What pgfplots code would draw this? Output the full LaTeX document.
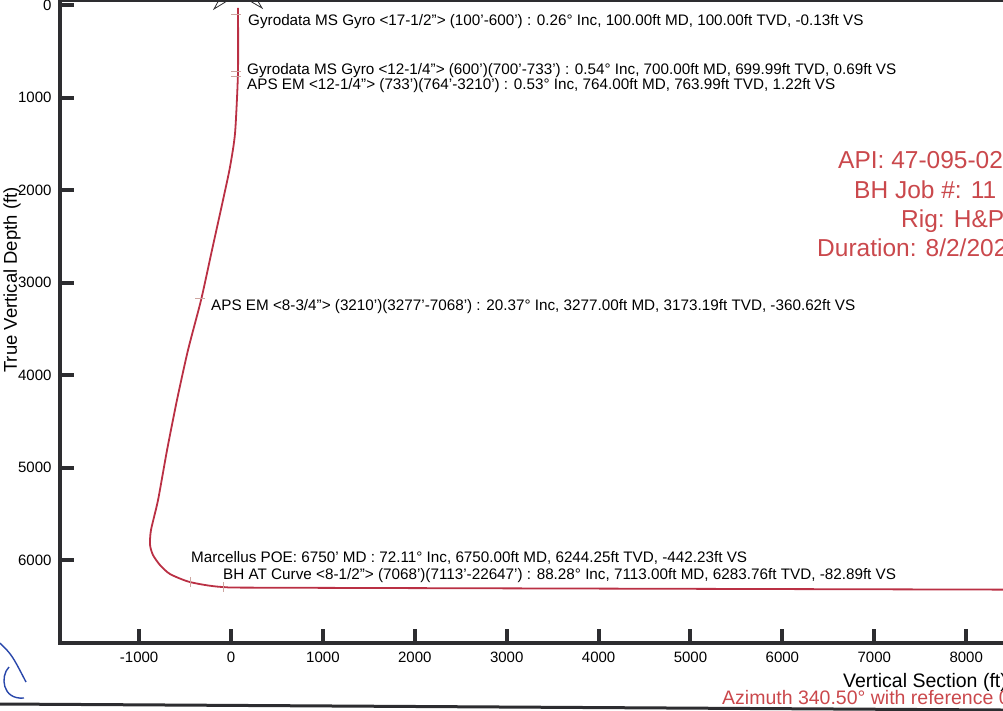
\documentclass[border=0pt]{standalone}
\usepackage{fontspec}
\setmainfont{Liberation Sans}
\usepackage{pgfplots}
\pgfplotsset{compat=1.18}
\definecolor{wellred}{RGB}{186,48,68}
\definecolor{txtred}{RGB}{202,72,76}
\definecolor{axisgray}{RGB}{45,45,48}
\definecolor{survey}{RGB}{205,165,160}
\definecolor{pen}{RGB}{40,70,170}

\begin{document}
\begin{tikzpicture}
\useasboundingbox (0pt,0pt) rectangle (1003pt,-710pt);
\begin{axis}[
  scale only axis, width=950pt, height=643pt,
  at={(60pt,-643pt)}, anchor=south west,
  xmin=-1861, xmax=8477, ymin=-54, ymax=6897,
  y dir=reverse,
  axis line style={line width=4pt, axisgray},
  xtick={-1000,0,...,8000}, ytick={0,1000,...,6000},
  xtick pos=bottom, ytick pos=left,
  tick align=inside,
  major tick length=14pt,
  tick style={line width=4pt, axisgray},
  ticklabel style={font=\fontsize{15}{17}\selectfont},
  xticklabel style={yshift=-5pt},
  yticklabel style={xshift=-5pt},
  /pgf/number format/assume math mode=true,
  /pgf/number format/1000 sep={},
  clip=false,
]
% well path (vertical section, TVD)
\addplot[wellred, line width=1.8pt, smooth, tension=0.4] coordinates {
  (76,32) (76,724) (44,1384) (-11,1751) (-87,2108) (-207,2649)
  (-326,3189) (-468,3730) (-588,4270) (-696,4811) (-794,5351)
  (-871,5676) (-881,5838) (-849,5946) (-773,6054) (-664,6151)
  (-446,6238) (-87,6292) (751,6300) (8477,6320)
};
% survey tie-in marks
\addplot[only marks, mark=-, mark size=5pt, survey, mark options={line width=1pt}]
  coordinates {(54,108) (54,714) (54,778) (-337,3168)};
\addplot[only marks, mark=|, mark size=5pt, survey, mark options={line width=1pt}]
  coordinates {(-446,6238) (-87,6292)};
\end{axis}

\begin{scope}[x=1pt, y=-1pt]
\tikzset{ann/.style={anchor=base west, inner sep=0pt, font=\fontsize{15.25}{17}\selectfont}}
\node[ann] at (248,25) {Gyrodata MS Gyro <17-1/2"> (100'-600') : 0.26° Inc, 100.00ft MD, 100.00ft TVD, -0.13ft VS};
\node[ann] at (247,74) {Gyrodata MS Gyro <12-1/4"> (600')(700'-733') : 0.54° Inc, 700.00ft MD, 699.99ft TVD, 0.69ft VS};
\node[ann] at (247,89) {APS EM <12-1/4"> (733')(764'-3210') : 0.53° Inc, 764.00ft MD, 763.99ft TVD, 1.22ft VS};
\node[ann] at (211,310) {APS EM <8-3/4"> (3210')(3277'-7068') : 20.37° Inc, 3277.00ft MD, 3173.19ft TVD, -360.62ft VS};
\node[ann] at (191,562) {Marcellus POE: 6750' MD : 72.11° Inc, 6750.00ft MD, 6244.25ft TVD, -442.23ft VS};
\node[ann] at (223,579) {BH AT Curve <8-1/2"> (7068')(7113'-22647') : 88.28° Inc, 7113.00ft MD, 6283.76ft TVD, -82.89ft VS};

\tikzset{red/.style={anchor=base west, inner sep=0pt, text=txtred, font=\fontsize{24.5}{27}\selectfont}}
\node[red] at (838,168) {API: 47-095-02};
\node[red] at (854,198) {BH Job \#: 11};
\node[red] at (901,227) {Rig: H\&P};
\node[red] at (817,256) {Duration: 8/2/202};

\node[rotate=90, inner sep=0pt, font=\fontsize{18.5}{20}\selectfont] at (12,280) {True Vertical Depth (ft)};
\node[anchor=base west, inner sep=0pt, font=\fontsize{19.5}{20}\selectfont] at (843,687) {Vertical Section (ft)};
\node[anchor=base west, inner sep=0pt, text=txtred, font=\fontsize{19.5}{20}\selectfont] at (722,704) {Azimuth 340.50° with reference 0.00 N, 0.00 E};

% north arrow fragments at the top edge
\draw[axisgray, line width=0.8pt] (220,-2) -- (214,9) -- (227,1);
\draw[axisgray, line width=0.8pt] (256,-2) -- (262,8) -- (250,1);
% page border and pen marks
\draw[axisgray, line width=3pt] (0,704) -- (1003,710);
\draw[pen, line width=1.4pt] (0,643) .. controls (12,655) .. (26,682);
\draw[pen, line width=1.4pt] (9,667) .. controls (0,676) and (2,700) .. (24,698);
\end{scope}
\end{tikzpicture}
\end{document}
